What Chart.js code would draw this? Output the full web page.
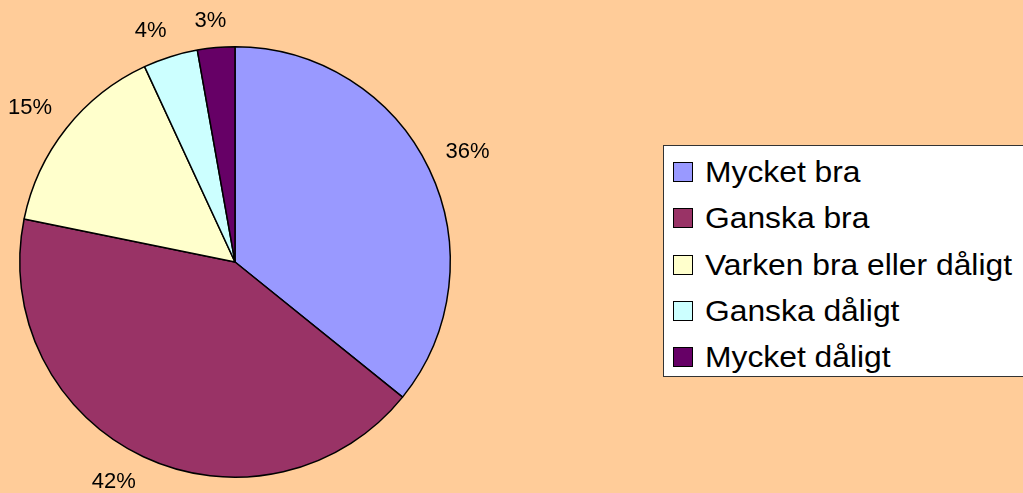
<!DOCTYPE html>
<html>
<head>
<meta charset="utf-8">
<script src="https://cdn.jsdelivr.net/npm/chart.js@4/dist/chart.umd.min.js"></script>
<style>
    html, body { margin: 0; padding: 0; background: #FFCC99; }
    #wrap { position: relative; width: 1023px; height: 493px; overflow: hidden; }
    #pie { position: absolute; left: 0; top: 0; }
    #legend {
        position: absolute; left: 663px; top: 145px; width: 380px; height: 232px;
        background: #fff; border: 1px solid #333; box-sizing: border-box;
        font-family: 'Liberation Sans', Arial, sans-serif; font-size: 30px; color: #000;
        padding-top: 3px;
    }
    .row { display: flex; align-items: center; height: 46.25px; }
    .sw { width: 18px; height: 18px; border: 1px solid #000; margin: 0 12px 0 9px; flex: none; }
    .txt { display: inline-block; transform: scaleX(1.06); transform-origin: left center; white-space: nowrap; }
</style>
</head>
<body>
<div id="wrap">
    <canvas id="pie" width="1023" height="493"></canvas>
    <div id="legend"></div>
</div>
<script>
const labels = ['Mycket bra', 'Ganska bra', 'Varken bra eller dåligt', 'Ganska dåligt', 'Mycket dåligt'];
const values = [35.8, 42.4, 14.9, 4.1, 2.8];
const colors = ['#9999FF', '#993366', '#FFFFCC', '#CCFFFF', '#660066'];

const clamp = v => Math.max(-1, Math.min(1, v));

// percent labels outside the slices, pushed away from the pie like Excel does
const outsideLabels = {
    id: 'outsideLabels',
    afterDatasetsDraw(chart) {
        const ctx = chart.ctx;
        const meta = chart.getDatasetMeta(0);
        const total = values.reduce((a, b) => a + b, 0);
        ctx.save();
        ctx.font = '22px "Liberation Sans", Arial, sans-serif';
        ctx.fillStyle = '#000';
        ctx.textAlign = 'center';
        ctx.textBaseline = 'middle';
        meta.data.forEach((arc, i) => {
            const text = Math.round(values[i] / total * 100) + '%';
            const w = ctx.measureText(text).width;
            const mid = (arc.startAngle + arc.endAngle) / 2;
            const ux = Math.cos(mid), uy = Math.sin(mid);
            const r = arc.outerRadius + 18;
            const x = arc.x + ux * r + clamp(ux * 3) * w / 2;
            const y = arc.y + uy * r + clamp(uy * 3) * 9;
            ctx.fillText(text, x, y);
        });
        ctx.restore();
    }
};

new Chart(document.getElementById('pie'), {
    type: 'pie',
    data: {
        labels: labels,
        datasets: [{
            data: values,
            backgroundColor: colors,
            borderColor: '#000',
            borderWidth: 1.5
        }]
    },
    options: {
        responsive: false,
        animation: false,
        layout: { padding: { left: 19, right: 572, top: 46, bottom: 15 } },
        plugins: {
            legend: { display: false },
            tooltip: { enabled: false }
        }
    },
    plugins: [outsideLabels]
});

document.getElementById('legend').innerHTML = labels.map((l, i) => `
    <div class="row"><span class="sw" style="background:${colors[i]}"></span><span class="txt">${l}</span></div>
`).join('');
</script>
</body>
</html>
